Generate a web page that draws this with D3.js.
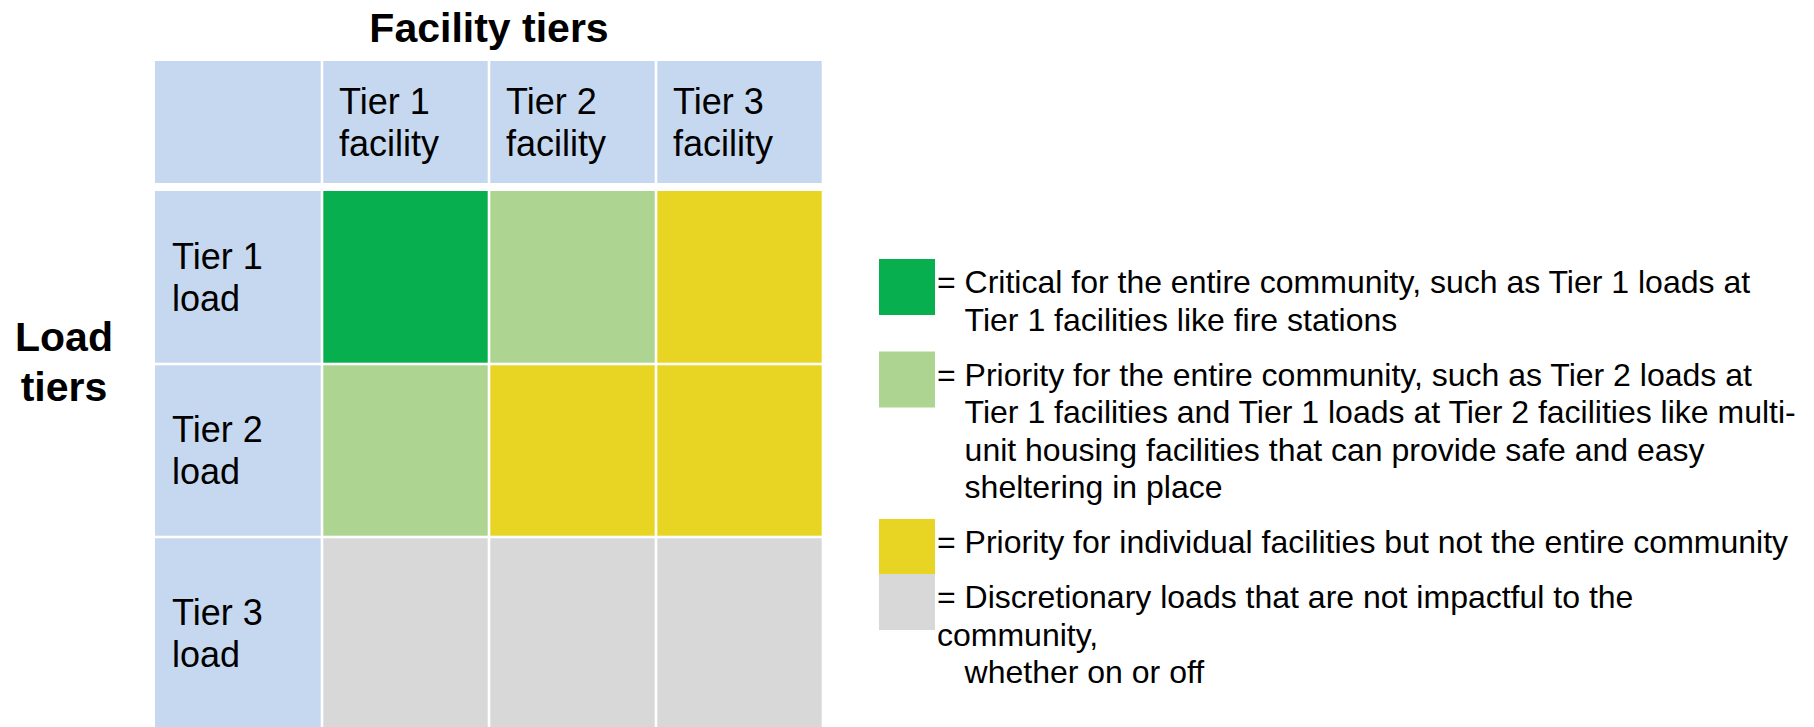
<!DOCTYPE html>
<html>
<head>
<meta charset="utf-8">
<script src="https://cdn.jsdelivr.net/npm/d3@7"></script>
<style>
  body { margin: 0; background: #fff; }
  text { font-family: "Liberation Sans", Arial, sans-serif; fill: #000; }
</style>
</head>
<body>
<svg id="chart"></svg>
<script>
var facilityTiers = [["Tier 1", "facility"], ["Tier 2", "facility"], ["Tier 3", "facility"]];
var loadTiers = [["Tier 1", "load"], ["Tier 2", "load"], ["Tier 3", "load"]];
var categories = ["critical", "community", "individual", "discretionary"];

// category for each cell: rows are load tiers, columns are facility tiers
var matrix = [
  ["critical", "community", "individual"],
  ["community", "individual", "individual"],
  ["discretionary", "discretionary", "discretionary"]
];

// legend lines, a leading "+" marks an indented continuation line
var legendLines = [
  ["= Critical for the entire community, such as Tier 1 loads at",
   "+Tier 1 facilities like fire stations"],
  ["= Priority for the entire community, such as Tier 2 loads at",
   "+Tier 1 facilities and Tier 1 loads at Tier 2 facilities like multi-",
   "+unit housing facilities that can provide safe and easy",
   "+sheltering in place"],
  ["= Priority for individual facilities but not the entire community"],
  ["= Discretionary loads that are not impactful to the",
   "community,",
   "+whether on or off"]
];

var width = 1814, height = 727;

var svg = d3.select("#chart").attr("width", width).attr("height", height);

var color = d3.scaleOrdinal()
  .domain(categories)
  .range(["#08AF4F", "#ADD591", "#E7D423", "#D8D8D8"]);
var headFill = "#C6D8EF";

var config = {
  gridLeft: 155, gridRight: 823,
  headTop: 61, headBottom: 183,
  bodyTop: 191, bodyBottom: 710,
  gap: 2.6,
  cellFont: 36, lineH: 42,
  legendX: 879, swatch: 56,
  legendFont: 32, legendLineH: 37.5, legendGap: 17.5, legendTop: 293
};

var cols = ["label"].concat(facilityTiers.map(function (d, i) { return "f" + i; }));
var x = d3.scaleBand().domain(cols).range([config.gridLeft, config.gridRight]);
var y = d3.scaleBand().domain(d3.range(loadTiers.length)).range([config.bodyTop, config.bodyBottom]);

var g = svg.append("g");

// two-line cell label, left aligned and vertically centred
function cellLabel(lines, x0, cy) {
  var t = g.append("text")
    .attr("font-size", config.cellFont);
  lines.forEach(function (s, i) {
    t.append("tspan")
      .attr("x", x0 + 17)
      .attr("y", cy + config.lineH * (i - (lines.length - 1) / 2) + config.cellFont * 0.36)
      .text(s);
  });
}

// header row
cols.forEach(function (c, i) {
  g.append("rect")
    .attr("x", x(c) + (i ? config.gap / 2 : 0))
    .attr("y", config.headTop)
    .attr("width", x.bandwidth() - config.gap / 2 - (i ? config.gap / 2 : 0))
    .attr("height", config.headBottom - config.headTop)
    .attr("fill", headFill);
  if (i) cellLabel(facilityTiers[i - 1], x(c), (config.headTop + config.headBottom) / 2);
});

// body rows
loadTiers.forEach(function (row, r) {
  var top = y(r) + (r ? config.gap / 2 : 0);
  var bottom = r === loadTiers.length - 1 ? height : y(r) + y.bandwidth() - config.gap / 2;
  cols.forEach(function (c, i) {
    g.append("rect")
      .attr("x", x(c) + (i ? config.gap / 2 : 0))
      .attr("y", top)
      .attr("width", x.bandwidth() - config.gap / 2 - (i ? config.gap / 2 : 0))
      .attr("height", bottom - top)
      .attr("fill", i ? color(matrix[r][i - 1]) : headFill);
  });
  cellLabel(row, x("label"), (top + bottom) / 2);
});

// titles
svg.append("text")
  .attr("x", (config.gridLeft + config.gridRight) / 2)
  .attr("y", 42)
  .attr("text-anchor", "middle")
  .attr("font-weight", "bold")
  .attr("font-size", 41)
  .text("Facility tiers");

var side = svg.append("text")
  .attr("text-anchor", "middle")
  .attr("font-weight", "bold")
  .attr("font-size", 41);
["Load", "tiers"].forEach(function (s, i) {
  side.append("tspan").attr("x", 64).attr("y", 351 + i * 50).text(s);
});

// legend
var leg = svg.append("g");
var base = config.legendTop;
var textX = config.legendX + config.swatch + 2;
var indent = config.legendFont * 0.862;
legendLines.forEach(function (lines, k) {
  leg.append("rect")
    .attr("x", config.legendX)
    .attr("y", base - 34)
    .attr("width", config.swatch)
    .attr("height", config.swatch)
    .attr("fill", color(categories[k]));
  lines.forEach(function (s, j) {
    var ind = s.charAt(0) === "+";
    leg.append("text")
      .attr("x", textX + (ind ? indent : 0))
      .attr("y", base + j * config.legendLineH)
      .attr("font-size", config.legendFont)
      .text(ind ? s.slice(1) : s);
  });
  base += lines.length * config.legendLineH + config.legendGap;
});
</script>
</body>
</html>
